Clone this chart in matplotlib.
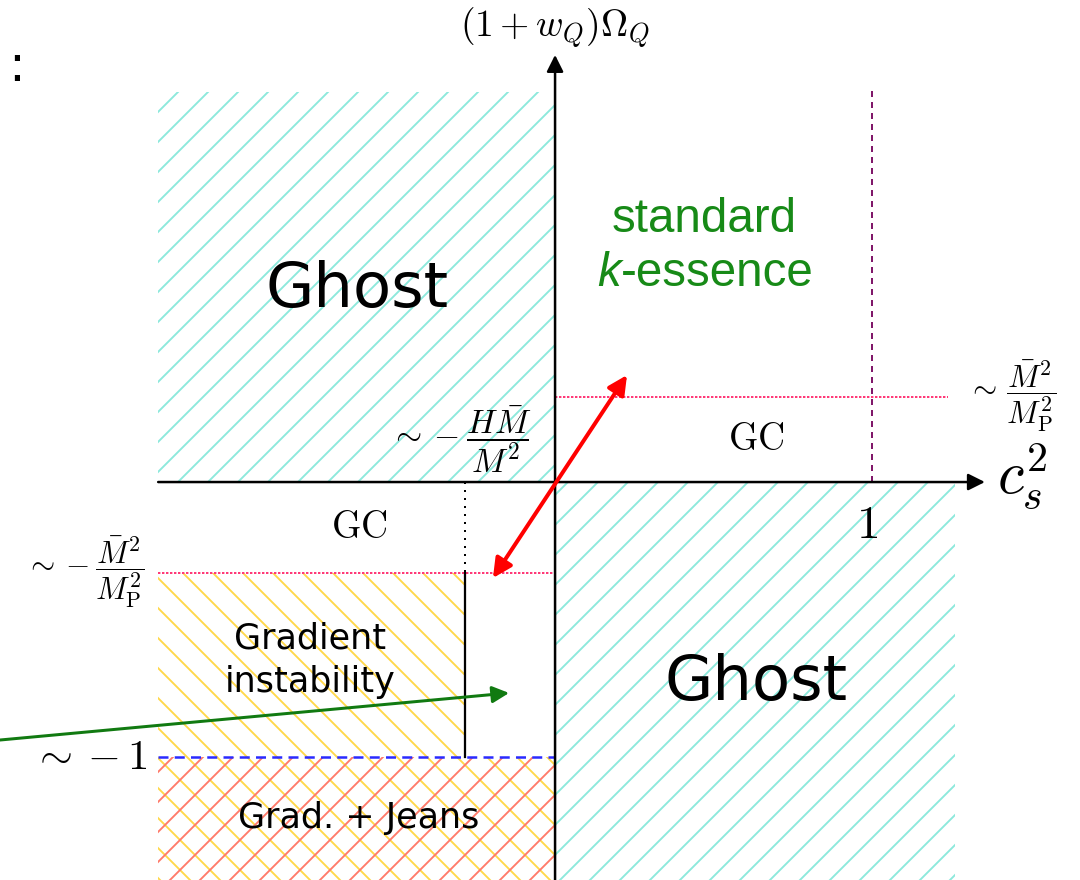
import matplotlib.pyplot as plt
from matplotlib.patches import Rectangle

plt.rcParams['mathtext.fontset'] = 'cm'
plt.rcParams['hatch.linewidth'] = 0.75

# schematic units: x in c_s^2 (1 -> one tick), y in (1+w_Q)Omega_Q with -1 level
x_left, x_right = -1.252, 1.262
y_top, y_bottom = 1.418, -1.447
x_gc = -0.284          # ~ -H Mbar / M^2
y_mp = 0.31            # ~ Mbar^2 / M_P^2
y_mp_neg = -0.33       # ~ -Mbar^2 / M_P^2
y_minus1 = -1.0

# hatched regions: (x0, x1, y0, y1, hatch, colour)
region_x0 = [x_left, 0.0, x_left, x_left, x_left]
region_x1 = [0.0, x_right, x_gc, 0.0, 0.0]
region_y0 = [0.0, y_bottom, y_minus1, y_bottom, y_bottom]
region_y1 = [y_top, 0.0, y_mp_neg, y_minus1, y_minus1]
region_hatch = ['//', '//', '\\\\', '\\\\', '//']
region_color = ['#8ce9dc', '#8ce9dc', '#ffd84a', '#ffd84a', '#ff7a6a']

red_arrow = [(-0.196, -0.349), (0.227, 0.389)]
green_arrow = [(-1.751, -0.938), (-0.145, -0.767)]

fig = plt.figure(figsize=(6, 880 / 180), dpi=180)
ax = fig.add_axes([0, 0, 1, 1])
ax.set_xlim(-1.751, 1.656)
ax.set_ylim(-1.447, 1.7527)
ax.axis('off')

for x0, x1, y0, y1, h, c in zip(region_x0, region_x1, region_y0, region_y1,
                                region_hatch, region_color):
    ax.add_patch(Rectangle((x0, y0), x1 - x0, y1 - y0, fill=False, hatch=h,
                           edgecolor=c, lw=0))

# boundary lines
ax.plot([0, 1.24], [y_mp, y_mp], color='#ff3a78', lw=0.8, ls=(0, (1.2, 0.8)))
ax.plot([x_left, 0], [y_mp_neg, y_mp_neg], color='#ff3a78', lw=0.8, ls=(0, (1.2, 0.8)))
ax.plot([1, 1], [0, 1.433], color='#80186a', lw=0.8, ls=(0, (3, 2.5)))
ax.plot([x_gc, x_gc], [0, y_mp_neg], color='black', lw=0.8, ls=(0, (1, 3)))
ax.plot([x_gc, x_gc], [y_mp_neg, y_minus1], color='black', lw=0.9)
ax.plot([x_left, 0], [y_minus1, y_minus1], color='#2a2aff', lw=1.0, ls=(0, (4, 2.5)))

# axes with arrows
ax.annotate('', xy=(1.356, 0), xytext=(x_left, 0),
            arrowprops=dict(arrowstyle='-|>', color='black', lw=1.0,
                            mutation_scale=14, shrinkA=0, shrinkB=0))
ax.annotate('', xy=(0, 1.553), xytext=(0, y_bottom),
            arrowprops=dict(arrowstyle='-|>', color='black', lw=1.0,
                            mutation_scale=14, shrinkA=0, shrinkB=0))

# red and green arrows
ax.annotate('', xy=red_arrow[1], xytext=red_arrow[0],
            arrowprops=dict(arrowstyle='<|-|>', color='#ff0000', lw=1.6,
                            mutation_scale=16, shrinkA=0, shrinkB=0))
ax.annotate('', xy=green_arrow[1], xytext=green_arrow[0],
            arrowprops=dict(arrowstyle='-|>', color='#117a11', lw=1.2,
                            mutation_scale=14, shrinkA=0, shrinkB=0))

# labels
ax.text(-0.625, 0.70, 'Ghost', fontsize=25, ha='center', va='center', family='DejaVu Sans')
ax.text(0.634, -0.730, 'Ghost', fontsize=25, ha='center', va='center', family='DejaVu Sans')
ax.text(0.47, 0.955, 'standard', fontsize=19, color='#178a17', ha='center', va='center',
        family='Liberation Sans')
ax.text(0.207, 0.76, 'k', fontsize=19, color='#178a17', ha='right', va='center',
        family='Liberation Sans', style='italic')
ax.text(0.207, 0.76, '-essence', fontsize=19, color='#178a17', ha='left', va='center',
        family='Liberation Sans')
ax.text(0.634, 0.153, r'$\mathrm{GC}$', fontsize=15, ha='center', va='center')
ax.text(-0.618, -0.168, r'$\mathrm{GC}$', fontsize=15, ha='center', va='center')
ax.text(-0.773, -0.647, 'Gradient\ninstability', fontsize=14, ha='center', va='center',
        family='DejaVu Sans', linespacing=1.35)
ax.text(-0.621, -1.22, 'Grad. + Jeans', fontsize=14, ha='center', va='center',
        family='DejaVu Sans')

ax.text(-0.075, 0.155, r'$\sim -\dfrac{H\bar{M}}{M^2}$', fontsize=13.5, ha='right', va='center')
ax.text(-1.295, y_mp_neg, r'$\sim -\dfrac{\bar{M}^2}{M_{\rm P}^2}$', fontsize=12.5,
        ha='right', va='center')
ax.text(-1.285, y_minus1, r'$\sim -1$', fontsize=17, ha='right', va='center')
ax.text(1.3, y_mp, r'$\sim\,\dfrac{\bar{M}^2}{M_{\rm P}^2}$', fontsize=12.5, ha='left',
        va='center')
ax.text(1.395, 0.02, r'$c_s^2$', fontsize=24, ha='left', va='center')
ax.text(0.985, -0.155, r'$1$', fontsize=19, ha='center', va='center')
ax.text(0, 1.65, r'$(1+w_Q)\Omega_Q$', fontsize=15, ha='center', va='center')
ax.text(-1.70, 1.51, ':', fontsize=20, ha='center', va='center', family='DejaVu Sans')

fig.savefig('out.png', dpi=180)
